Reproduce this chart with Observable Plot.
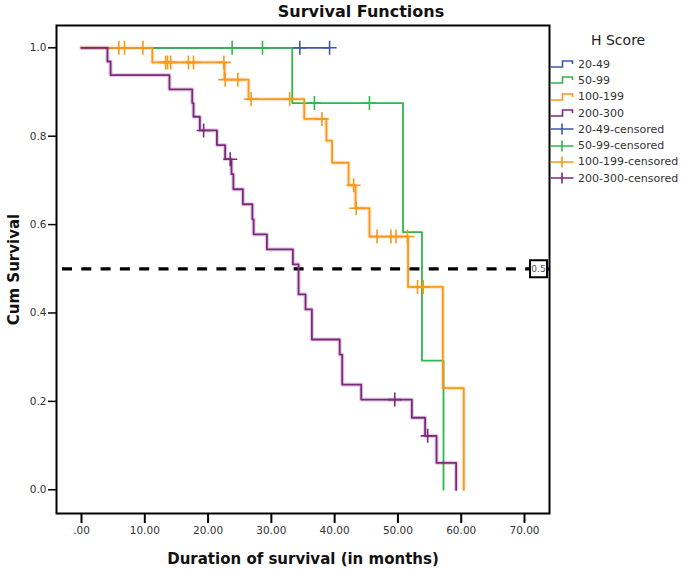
<!DOCTYPE html>
<html>
<head>
<meta charset="utf-8">
<script src="https://cdn.jsdelivr.net/npm/d3@7"></script>
<script src="https://cdn.jsdelivr.net/npm/@observablehq/plot@0.6"></script>
<style>
  html, body { margin: 0; padding: 0; background: #fff; }
  #wrap { position: relative; width: 685px; height: 570px; font-family: "DejaVu Sans", sans-serif; }
  #title { position: absolute; top: 2px; left: 361px; transform: translateX(-50%); font: bold 16px "DejaVu Sans", sans-serif; color: #111; white-space: nowrap; }
  #legend { position: absolute; left: 550px; top: 31px; color: #333; }
  #legend .lt { font-size: 14px; line-height: 18px; width: 137px; text-align: left; padding-left: 41px; color: #222; }
  #legend .rows { margin-top: 7px; }
  #legend .row { display: flex; align-items: center; height: 16.3px; font-size: 11px; white-space: nowrap; }
  #legend svg { margin-right: 4px; }
  #chart svg [aria-label="x-axis label"] text, #chart svg [aria-label="y-axis label"] text { font-weight: bold; font-size: 15px; fill: #111; }
</style>
</head>
<body>
<div id="wrap">
  <div id="chart"></div>
  <div id="title"></div>
  <div id="legend"></div>
</div>
<script>
// ---- data ----
const titleText = "Survival Functions";
const legendTitle = "H Score";
const groups = ["20-49", "50-99", "100-199", "200-300"];
const groupColors = ["#3E58AC", "#2EB848", "#F8981D", "#7C287D"];

const xTicks = [0, 10, 20, 30, 40, 50, 60, 70];
const xTickLabels = [".00", "10.00", "20.00", "30.00", "40.00", "50.00", "60.00", "70.00"];
const yTicks = [0, 0.2, 0.4, 0.6, 0.8, 1.0];
const yTickLabels = ["0.0", "0.2", "0.4", "0.6", "0.8", "1.0"];
const xLabel = "Duration of survival (in months)";
const yLabel = "Cum Survival";
const refLevel = 0.5;
const refLabel = "0.5";

// step curves (time in months, cumulative survival)
const time2049 = [0, 39.2];
const surv2049 = [1, 1];
const time5099 = [0, 33.3, 50.8, 53.8, 57.2];
const surv5099 = [1, 0.875, 0.583, 0.292, 0];
const time100199 = [0, 11.2, 22.6, 26.4, 35.2, 38.7, 39.6, 42.2, 43.3, 45.5, 51.6, 57.1, 60.4];
const surv100199 = [1, 0.967, 0.928, 0.884, 0.839, 0.790, 0.740, 0.689, 0.637, 0.573, 0.459, 0.230, 0];
const time200300 = [0, 4.1, 4.6, 13.9, 17.5, 17.7, 18.7, 21.4, 22.7, 23.7, 24.0, 25.5, 27.0, 27.2, 29.3, 33.4, 34.3, 35.4, 36.4, 40.8, 41.2, 44.2, 52.2, 54.3, 56.1, 59.2];
const surv200300 = [1, 0.969, 0.938, 0.906, 0.875, 0.844, 0.813, 0.780, 0.748, 0.714, 0.680, 0.646, 0.612, 0.578, 0.544, 0.510, 0.442, 0.408, 0.340, 0.306, 0.238, 0.204, 0.163, 0.122, 0.061, 0];

// censored times
const cens2049 = [34.5, 39.2];
const cens5099 = [23.8, 28.6, 36.8, 45.5];
const cens100199 = [5.9, 6.8, 9.7, 13.3, 13.6, 14.1, 16.9, 17.7, 22.5, 22.7, 24.7, 26.8, 32.9, 38.0, 43.0, 43.4, 46.7, 48.9, 49.7, 51.5, 53.1, 54.0];
const cens200300 = [19.3, 23.5, 49.5, 54.7];

// ---- build tables ----
const stepTimes = [time2049, time5099, time100199, time200300];
const stepSurv = [surv2049, surv5099, surv100199, surv200300];
const censTimes = [cens2049, cens5099, cens100199, cens200300];

const curves = groups.map((g, i) => stepTimes[i].map((t, j) => ({group: g, t, s: stepSurv[i][j]})));
function survAt(i, t) {
  const ts = stepTimes[i];
  let k = 0;
  for (let j = 0; j < ts.length; j++) if (ts[j] <= t) k = j;
  return stepSurv[i][k];
}
const censored = groups.map((g, i) => censTimes[i].map(t => ({group: g, t, s: survAt(i, t)})));

const plusSymbol = {
  draw(context, size) {
    const r = Math.sqrt(size / Math.PI);
    context.moveTo(-r, 0); context.lineTo(r, 0);
    context.moveTo(0, -r); context.lineTo(0, r);
  }
};

const marks = [];
marks.push(Plot.ruleY([refLevel], {stroke: "black", strokeWidth: 3.3, strokeDasharray: "10,9.3", strokeDashoffset: -6}));
groups.forEach((g, i) => {
  const halo = i >= 2;
  if (halo) marks.push(Plot.line(curves[i], {x: "t", y: "s", curve: "step-after", stroke: groupColors[i], strokeWidth: 4.2, strokeOpacity: 0.22}));
  marks.push(Plot.line(curves[i], {x: "t", y: "s", curve: "step-after", stroke: groupColors[i], strokeWidth: 1.8}));
  marks.push(Plot.dot(censored[i], {x: "t", y: "s", symbol: plusSymbol, r: 7, stroke: groupColors[i], strokeWidth: 1.6, fill: "none"}));
});
marks.push(Plot.dot([refLevel], {y: d => d, frameAnchor: "right", dx: -11, symbol: "square", r: 9.6, fill: "white", stroke: "black", strokeWidth: 2}));
marks.push(Plot.text([refLevel], {y: d => d, text: () => refLabel, frameAnchor: "right", textAnchor: "middle", dx: -11, fontSize: 9, fill: "#555"}));
marks.push(Plot.frame({stroke: "black", strokeWidth: 2}));
marks.push(Plot.axisX({ticks: xTicks, tickFormat: d => xTickLabels[xTicks.indexOf(d)], tickSize: 10, tickPadding: 3, strokeWidth: 2, stroke: "black",
  label: xLabel, labelAnchor: "center", labelOffset: 50, labelArrow: "none"}));
marks.push(Plot.axisY({ticks: yTicks, tickFormat: d => yTickLabels[yTicks.indexOf(d)], tickSize: 8, tickPadding: 2, strokeWidth: 1.5, stroke: "black",
  label: yLabel, labelAnchor: "center", labelOffset: 48, labelArrow: "none"}));

const chart = Plot.plot({
  width: 685,
  height: 570,
  marginLeft: 56,
  marginRight: 136,
  marginTop: 25,
  marginBottom: 57,
  x: {domain: [-3.95, 73.95]},
  y: {domain: [-0.0537, 1.0505]},
  style: {fontFamily: "DejaVu Sans, sans-serif", fontSize: "10.5px", color: "#333", background: "white"},
  marks
});
document.getElementById("chart").appendChild(chart);

document.getElementById("title").textContent = titleText;

// legend
const legend = document.getElementById("legend");
const lt = document.createElement("div");
lt.className = "lt";
lt.textContent = legendTitle;
legend.appendChild(lt);
const rows = document.createElement("div");
rows.className = "rows";
legend.appendChild(rows);
const ns = "http://www.w3.org/2000/svg";
function addRow(color, label, censoredItem) {
  const row = document.createElement("div");
  row.className = "row";
  const s = document.createElementNS(ns, "svg");
  s.setAttribute("width", 24); s.setAttribute("height", 16);
  const p = document.createElementNS(ns, "path");
  p.setAttribute("d", censoredItem ? "M0.5,8H23.5M12,2.5V13.5" : "M0.5,11H12.5V5H22.5V8");
  p.setAttribute("fill", "none"); p.setAttribute("stroke", color); p.setAttribute("stroke-width", 1.6);
  s.appendChild(p);
  row.appendChild(s);
  const t = document.createElement("span");
  t.textContent = label;
  row.appendChild(t);
  rows.appendChild(row);
}
groups.forEach((g, i) => addRow(groupColors[i], g, false));
groups.forEach((g, i) => addRow(groupColors[i], g + "-censored", true));
</script>
</body>
</html>
